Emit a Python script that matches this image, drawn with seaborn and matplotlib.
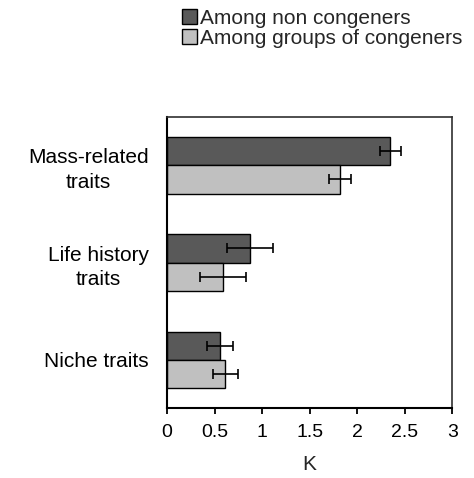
import matplotlib
matplotlib.use("Agg")
import matplotlib.pyplot as plt
import seaborn as sns
import pandas as pd

categories = ["Mass-related\ntraits", "Life history\ntraits", "Niche traits"]
groups = ["Among non congeners", "Among groups of congeners"]
non_congeners = [2.35, 0.87, 0.56]
non_congeners_err = [0.11, 0.24, 0.135]
congeners = [1.82, 0.59, 0.615]
congeners_err = [0.115, 0.24, 0.135]
xticks = [0, 0.5, 1, 1.5, 2, 2.5, 3]
xtick_labels = ["0", "0.5", "1", "1.5", "2", "2.5", "3"]

sns.set_theme(style="white")
plt.rcParams["font.family"] = ["Liberation Sans", "DejaVu Sans"]
FS = 15

df = pd.DataFrame({
    "trait": categories * 2,
    "K": non_congeners + congeners,
    "group": [groups[0]] * 3 + [groups[1]] * 3,
})
errs = [non_congeners_err, congeners_err]

fig = plt.figure(figsize=(4.74, 4.78), dpi=100)
ax = fig.add_axes([0.3523, 0.1454, 0.6019, 0.6105])

sns.barplot(data=df, y="trait", x="K", hue="group", orient="h",
            palette=["#595959", "#c0c0c0"], width=0.58,
            edgecolor="black", linewidth=1.0, errorbar=None, ax=ax)

for cont, err in zip(ax.containers, errs):
    for bar, e in zip(cont, err):
        yc = bar.get_y() + bar.get_height() / 2
        ax.errorbar(bar.get_width(), yc, xerr=e, fmt="none", ecolor="black",
                    elinewidth=1.2, capsize=3.5, capthick=1.2, zorder=5)

ax.set_xlim(0, 3)
ax.set_ylim(2.5, -0.5)
ax.set_xticks(xticks)
ax.set_xticklabels(xtick_labels, fontsize=14)
ax.set_xlabel("K", fontsize=FS, labelpad=10)
ax.set_ylabel("")
for lbl in ax.get_yticklabels():
    lbl.set_multialignment("center")
    lbl.set_fontsize(FS)
    lbl.set_linespacing(1.35)
ax.tick_params(axis="y", length=0, pad=13, colors="black")
ax.tick_params(axis="x", length=4, width=1.3, pad=7.5, colors="black",
               direction="out", bottom=True)

for s in ["left", "bottom"]:
    ax.spines[s].set_color("black")
    ax.spines[s].set_linewidth(1.5)
for s in ["top", "right"]:
    ax.spines[s].set_color("#303030")
    ax.spines[s].set_linewidth(1.2)

handles, labels = ax.get_legend_handles_labels()
ax.get_legend().remove()
for h in handles:
    h.set_edgecolor("black")
fig.legend(handles, labels, loc="upper left", bbox_to_anchor=(0.375, 0.99),
           frameon=False, fontsize=FS, handlelength=0.7, handleheight=0.7,
           handletextpad=0.15, labelspacing=0.05, borderpad=0.2,
           borderaxespad=0)

fig.savefig("out.png", dpi=100)
